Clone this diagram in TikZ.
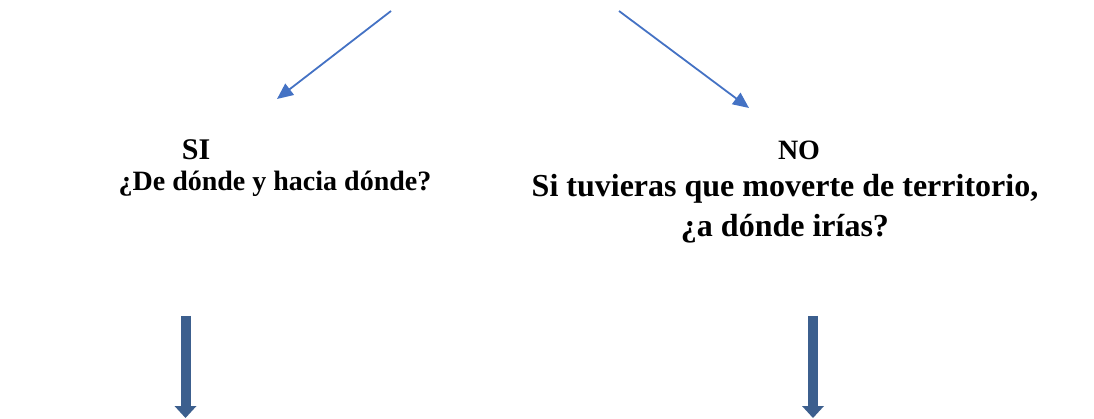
\documentclass[tikz,border=0pt]{standalone}
\usepackage{fontspec}
\setmainfont{Liberation Serif}
\usepackage{tikz}
\usetikzlibrary{positioning}
\usetikzlibrary{arrows.meta}
\definecolor{thinblue}{RGB}{68,114,196}
\definecolor{thickblue}{RGB}{60,95,142}

\begin{document}
\begin{tikzpicture}[x=1pt, y=-1pt,
    lbl/.style={font=\fontsize{28}{34}\selectfont\bfseries, inner sep=0pt, align=center},
    big lbl/.style={lbl, font=\fontsize{32}{40}\selectfont\bfseries},
    thin arrow/.style={-{Triangle[width=14pt,length=16pt]}, thinblue, line width=1.8pt},
    thick arrow/.style={-{Triangle[width=22pt,length=12pt,line width=0pt]}, thickblue, line width=10pt}]
  \useasboundingbox (0,0) rectangle (1094,419);

  \coordinate (top l) at (391,11);
  \coordinate (top r) at (619,11);
  \coordinate (end l) at (277,99);
  \coordinate (end r) at (749,108);

  \node[lbl, font=\fontsize{30}{36}\selectfont\bfseries] (si) at (196,150) {SI};
  \node[lbl] (siq) at (275,184) {¿De dónde y hacia dónde?};
  \node[lbl] (no) at (799,150) {NO};
  \node[big lbl] (noq) at (785,209) {Si tuvieras que moverte de territorio,\\¿a dónde irías?};

  \coordinate (down l) at (185.5,316);
  \coordinate (down r) at (813,316);
  \coordinate (foot l) at (185.5,418);
  \coordinate (foot r) at (813,418);

  \draw[thin arrow] (top l) -- (end l);
  \draw[thin arrow] (top r) -- (end r);
  \draw[thick arrow] (down l) -- (foot l);
  \draw[thick arrow] (down r) -- (foot r);
\end{tikzpicture}
\end{document}
